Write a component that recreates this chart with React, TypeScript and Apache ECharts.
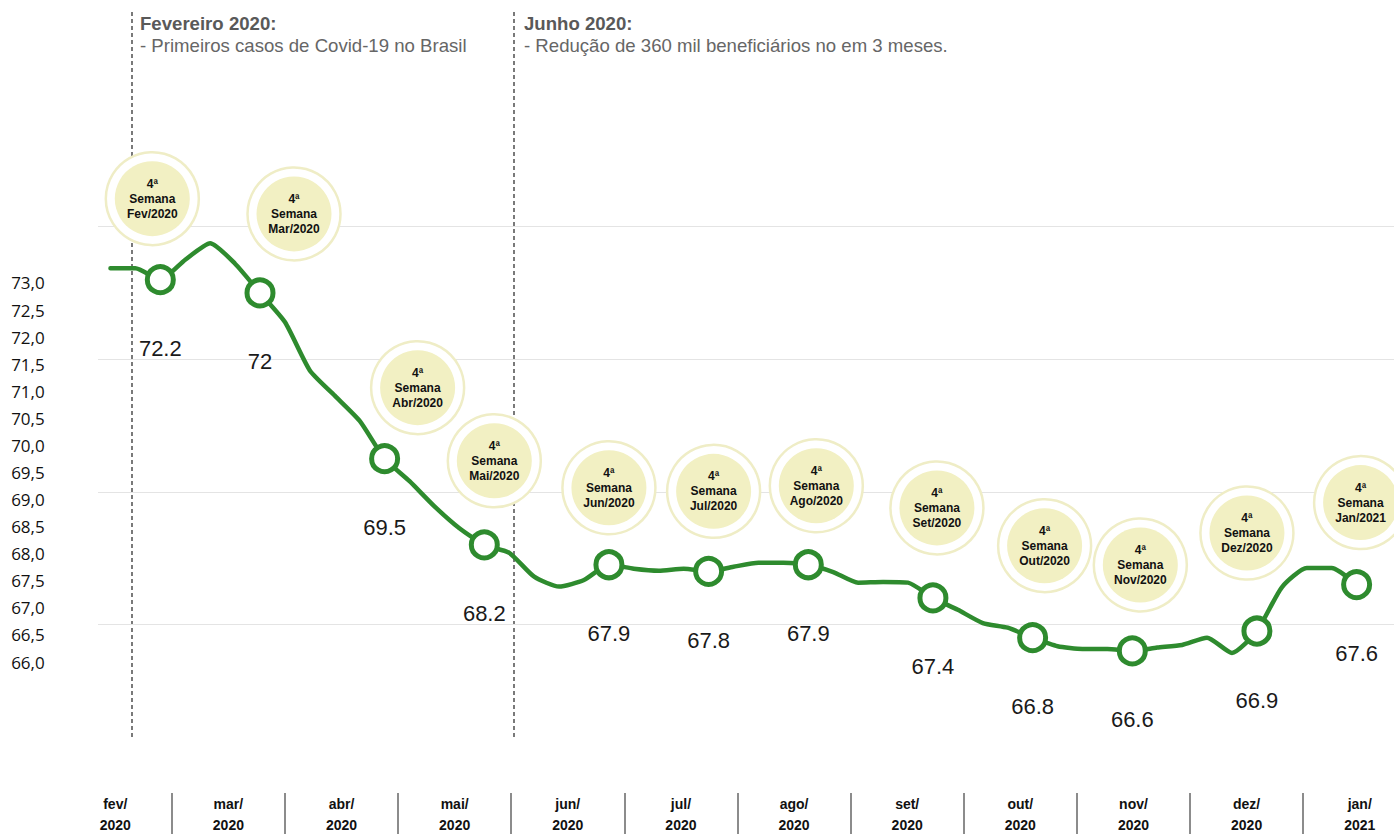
import React, { useEffect, useRef } from 'react';
import * as echarts from 'echarts';

// ---- data ----
const months = ['fev', 'mar', 'abr', 'mai', 'jun', 'jul', 'ago', 'set', 'out', 'nov', 'dez', 'jan'];
const years = ['2020', '2020', '2020', '2020', '2020', '2020', '2020', '2020', '2020', '2020', '2020', '2021'];
const bubbleLabels = ['Fev/2020', 'Mar/2020', 'Abr/2020', 'Mai/2020', 'Jun/2020', 'Jul/2020', 'Ago/2020', 'Set/2020', 'Out/2020', 'Nov/2020', 'Dez/2020', 'Jan/2021'];

// weekly series (millions of beneficiaries)
const weeklyValues = [
  72.37, 72.37, 72.2, 72.5, 72.75, 72.44, 72.0, 71.56, 70.83, 70.45,
  70.07, 69.5, 69.16, 68.78, 68.45, 68.2, 68.08, 67.72, 67.57, 67.67,
  67.9, 67.84, 67.81, 67.84, 67.8, 67.87, 67.93, 67.93, 67.9, 67.79,
  67.63, 67.64, 67.63, 67.4, 67.22, 67.02, 66.95, 66.8, 66.67, 66.63,
  66.63, 66.6, 66.65, 66.69, 66.8, 66.57, 66.9, 67.56, 67.85, 67.85,
  67.6,
];
// index of the 4th week of each month in weeklyValues
const monthWeekIndex = [2, 6, 11, 15, 20, 24, 28, 33, 37, 41, 46, 50];
const monthlyValues = [72.2, 72, 69.5, 68.2, 67.9, 67.8, 67.9, 67.4, 66.8, 66.6, 66.9, 67.6];

// left axis tick labels
const yTickValues = [66, 66.5, 67, 67.5, 68, 68.5, 69, 69.5, 70, 70.5, 71, 71.5, 72, 72.5, 73];
const yTickLabels = ['66,0', '66,5', '67,0', '67,5', '68,0', '68,5', '69,0', '69,5', '70,0', '70,5', '71,0', '71,5', '72,0', '72,5', '73,0'];

// ---- layout / style ----
const bubbleOffsets = [
  [-8, -81], [34, -79], [33, -71], [10, -84], [0, -77], [5, -80],
  [8, -79], [4, -90], [12, -92], [8, -86], [-10, -98], [4, -82],
];
const GREEN = '#2e8b2e';
const FONT = '"Liberation Sans", Arial, sans-serif';

export default function App() {
  const ref = useRef<HTMLDivElement>(null);

  useEffect(() => {
    document.body.style.margin = '0';
    const chart = echarts.init(ref.current!, null, { renderer: 'svg' });

    const monthCats = months.map((m, i) => `${m}/\n${years[i]}`);
    const monthPoints = monthWeekIndex.map((j, k) => [j, monthlyValues[k]]);

    const option: any = {
      animation: false,
      textStyle: { fontFamily: FONT },
      grid: [
        { left: 58.7, right: -22.3, top: 66.4, bottom: 63.7, outerBoundsMode: 'none', containLabel: false },
        { left: 98, right: 0, top: 94, bottom: 77, outerBoundsMode: 'none', containLabel: false },
      ],
      xAxis: [
        {
          gridIndex: 0,
          type: 'category',
          data: monthCats,
          boundaryGap: true,
          offset: 22.7,
          axisLine: { show: false },
          axisTick: {
            show: true,
            length: 45,
            interval: (i: number) => i > 0,
            lineStyle: { color: '#8c8c8c', width: 2 },
          },
          axisLabel: {
            interval: 0,
            margin: 0,
            fontFamily: FONT,
            fontWeight: 'bold',
            fontSize: 14,
            lineHeight: 21,
            color: '#111',
          },
          splitLine: { show: false },
        },
        { gridIndex: 1, type: 'value', min: -0.5, max: 51.5, show: false },
      ],
      yAxis: [
        {
          gridIndex: 0,
          type: 'value',
          min: 64,
          max: 77,
          interval: 0.5,
          axisLine: { show: false },
          axisTick: { show: false },
          splitLine: { show: false },
          axisLabel: {
            margin: 14,
            fontFamily: '"Open Sans", sans-serif',
            fontSize: 17,
            color: '#111',
            formatter: (v: number) => {
              const idx = yTickValues.findIndex((t) => Math.abs(t - v) < 1e-6);
              return idx >= 0 ? yTickLabels[idx] : '';
            },
          },
        },
        {
          gridIndex: 1,
          type: 'value',
          min: 65,
          max: 75,
          interval: 2,
          axisLabel: { show: false },
          axisLine: { show: false },
          axisTick: { show: false },
          splitLine: {
            show: true,
            showMinLine: false,
            showMaxLine: false,
            lineStyle: { color: '#e4e4e4', width: 1 },
          },
        },
      ],
      graphic: [
        {
          type: 'line', silent: true, z: 0,
          shape: { x1: 132, y1: 12, x2: 132, y2: 740 },
          style: { stroke: '#222', lineWidth: 1.2, lineDash: [4, 3] },
        },
        {
          type: 'line', silent: true, z: 0,
          shape: { x1: 514, y1: 12, x2: 514, y2: 740 },
          style: { stroke: '#222', lineWidth: 1.2, lineDash: [4, 3] },
        },
        {
          type: 'text', x: 140, y: 23, z: 0,
          style: { text: 'Fevereiro 2020:', font: `bold 18.6px ${FONT}`, fill: '#595959', verticalAlign: 'middle' },
        },
        {
          type: 'text', x: 140, y: 45, z: 0,
          style: { text: '- Primeiros casos de Covid-19 no Brasil', font: `18.6px ${FONT}`, fill: '#666', verticalAlign: 'middle' },
        },
        {
          type: 'text', x: 524, y: 23, z: 0,
          style: { text: 'Junho 2020:', font: `bold 18.6px ${FONT}`, fill: '#595959', verticalAlign: 'middle' },
        },
        {
          type: 'text', x: 524, y: 45, z: 0,
          style: { text: '- Redução de 360 mil beneficiários no em 3 meses.', font: `18.6px ${FONT}`, fill: '#666', verticalAlign: 'middle' },
        },
      ],
      series: [
        {
          name: 'halo',
          type: 'scatter',
          xAxisIndex: 1,
          yAxisIndex: 1,
          silent: true,
          z: 2,
          symbol: 'circle',
          symbolSize: 93,
          itemStyle: { color: '#ffffff', borderColor: '#efedc6', borderWidth: 2.5, opacity: 1 },
          data: monthPoints.map((p, k) => ({ value: p, symbolOffset: bubbleOffsets[k] })),
        },
        {
          name: 'bubble',
          type: 'scatter',
          xAxisIndex: 1,
          yAxisIndex: 1,
          silent: true,
          z: 2,
          symbol: 'circle',
          symbolSize: 75,
          itemStyle: { color: '#f2f0c3', opacity: 1 },
          label: {
            show: true,
            position: 'inside',
            formatter: (p: any) => `4ª\nSemana\n${bubbleLabels[p.dataIndex]}`,
            fontFamily: FONT,
            fontWeight: 'bold',
            fontSize: 12,
            lineHeight: 15,
            color: '#111',
          },
          data: monthPoints.map((p, k) => ({ value: p, symbolOffset: bubbleOffsets[k] })),
        },
        {
          name: 'Beneficiários',
          type: 'line',
          xAxisIndex: 1,
          yAxisIndex: 1,
          z: 3,
          showSymbol: false,
          smooth: 0.2,
          lineStyle: { color: GREEN, width: 4.5, cap: 'round', join: 'round' },
          data: weeklyValues.map((v, i) => [i, v]),
        },
        {
          name: 'marcadores',
          type: 'scatter',
          xAxisIndex: 1,
          yAxisIndex: 1,
          z: 4,
          symbol: 'circle',
          symbolSize: 26,
          itemStyle: { color: '#ffffff', borderColor: GREEN, borderWidth: 5, opacity: 1 },
          label: {
            show: true,
            position: 'inside',
            offset: [0, 69],
            formatter: (p: any) => String(p.value[1]),
            fontFamily: FONT,
            fontSize: 22,
            color: '#1a1a1a',
          },
          data: monthPoints,
        },
      ],
    };

    chart.setOption(option);
    return () => chart.dispose();
  }, []);

  return <div ref={ref} style={{ width: 1394, height: 834 }} />;
}
